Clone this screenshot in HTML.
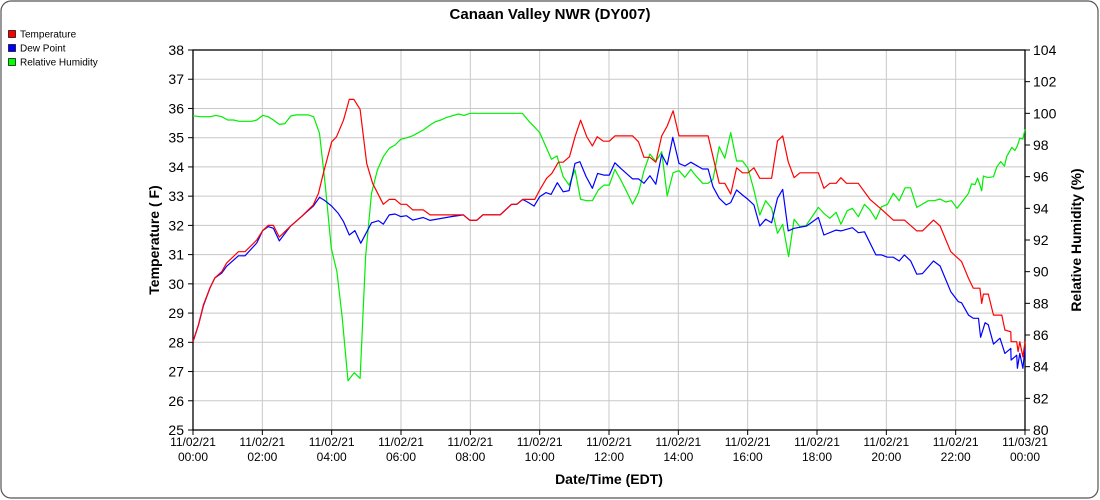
<!DOCTYPE html>
<html><head><meta charset="utf-8"><style>
body{margin:0;background:#fff;}
#wrap{position:relative;width:1100px;height:500px;}
svg{position:absolute;left:0;top:0;font-family:"Liberation Sans",sans-serif;}
</style></head><body>
<div id="wrap">
<svg id="chart" width="1100" height="500">
<rect x="1" y="1" width="1097" height="497" rx="10" ry="10" fill="#fff" stroke="#555" stroke-width="1.2"/>
<text x="550" y="19" text-anchor="middle" font-size="15" font-weight="bold">Canaan Valley NWR (DY007)</text>
<g>
<g><rect x="8.5" y="30.5" width="7" height="7" fill="#f00" stroke="#000" stroke-width="0.7"/><text x="20" y="37.5" font-size="10">Temperature</text></g>
<g><rect x="8.5" y="44.5" width="7" height="7" fill="#00f" stroke="#000" stroke-width="0.7"/><text x="20" y="51.5" font-size="10">Dew Point</text></g>
<g><rect x="8.5" y="58.5" width="7" height="7" fill="#0f0" stroke="#000" stroke-width="0.7"/><text x="20" y="65.5" font-size="10">Relative Humidity</text></g>
</g>
<text transform="translate(159,240) rotate(-90)" text-anchor="middle" font-size="14" font-weight="bold">Temperature ( F)</text>
<text transform="translate(1081,240) rotate(-90)" text-anchor="middle" font-size="14" font-weight="bold">Relative Humidity (%)</text>
<text x="609" y="484" text-anchor="middle" font-size="14" font-weight="bold">Date/Time (EDT)</text>
<g id="grid"></g><g id="axes"></g><g id="series"></g>
</svg></div>
<script>
const tempHours=[0,0.16,0.3,0.49,0.63,0.83,0.97,1.31,1.5,1.84,2.01,2.17,2.32,2.49,2.8,3.13,3.47,3.62,3.76,4.0,4.14,4.34,4.51,4.64,4.82,5.01,5.18,5.49,5.66,5.83,5.99,6.16,6.34,6.64,6.84,7.8,7.99,8.18,8.36,8.86,9.19,9.34,9.51,9.86,10.0,10.2,10.35,10.54,10.68,10.86,11.02,11.18,11.36,11.52,11.66,11.84,12.01,12.17,12.68,12.85,13.01,13.18,13.35,13.52,13.68,13.85,14.02,14.86,15.0,15.18,15.34,15.51,15.68,15.85,16.01,16.18,16.35,16.69,16.86,17.01,17.17,17.34,17.51,18.04,18.2,18.37,18.55,18.69,18.85,19.19,19.53,19.86,20.2,20.52,20.88,21.04,21.36,21.55,21.86,22.17,22.37,22.51,22.7,22.75,22.8,22.94,23.09,23.33,23.42,23.59,23.6,23.76,23.8,23.85,23.94,24];
const tempValues=[28.02,28.6,29.28,29.86,30.2,30.42,30.71,31.1,31.1,31.5,31.82,32.0,32.0,31.6,31.96,32.3,32.7,33.1,33.78,34.86,35.03,35.6,36.31,36.31,35.97,34.12,33.44,32.72,32.89,32.89,32.72,32.72,32.53,32.53,32.36,32.36,32.17,32.17,32.36,32.36,32.72,32.72,32.89,32.89,33.21,33.61,33.78,34.16,34.16,34.35,35.03,35.6,35.03,34.72,35.03,34.88,34.88,35.06,35.06,34.86,34.33,34.33,34.16,35.06,35.4,35.92,35.06,35.06,34.35,33.44,33.44,33.07,33.97,33.8,33.8,33.97,33.61,33.61,34.89,35.06,34.18,33.63,33.8,33.8,33.27,33.44,33.44,33.63,33.44,33.44,32.89,32.55,32.18,32.18,31.81,31.81,32.18,31.98,31.1,30.76,30.19,29.85,29.85,29.33,29.65,29.65,28.93,28.93,28.42,28.36,28.02,28.02,27.68,28.02,27.5,28.02];
const dewHours=[0,0.16,0.3,0.49,0.63,0.83,0.97,1.31,1.5,1.84,2.01,2.17,2.32,2.49,2.8,3.13,3.47,3.65,3.81,4.0,4.19,4.34,4.51,4.67,4.84,4.99,5.15,5.35,5.49,5.66,5.83,5.99,6.16,6.34,6.64,6.84,7.45,7.8,7.99,8.18,8.36,8.86,9.19,9.34,9.51,9.68,9.84,10.0,10.18,10.33,10.51,10.68,10.85,11.02,11.16,11.34,11.52,11.67,11.85,12.01,12.17,12.34,12.68,12.85,13.01,13.18,13.35,13.52,13.68,13.84,14.02,14.19,14.36,14.7,14.86,15.0,15.18,15.38,15.51,15.68,15.85,16.01,16.18,16.35,16.52,16.69,16.86,17.01,17.17,17.34,17.7,18.04,18.2,18.55,18.69,19.02,19.19,19.37,19.7,19.86,20.03,20.2,20.37,20.52,20.7,20.88,21.04,21.36,21.55,21.86,22.08,22.17,22.37,22.51,22.66,22.72,22.85,22.94,23.09,23.28,23.42,23.59,23.6,23.76,23.78,23.85,23.94,24];
const dewValues=[28.02,28.6,29.25,29.86,30.2,30.37,30.6,30.96,30.96,31.4,31.82,31.96,31.9,31.47,31.96,32.3,32.66,32.96,32.84,32.66,32.41,32.13,31.67,31.82,31.39,31.73,32.09,32.16,32.04,32.36,32.39,32.3,32.33,32.18,32.27,32.17,32.3,32.36,32.17,32.17,32.36,32.36,32.72,32.72,32.89,32.78,32.66,32.98,33.12,33.06,33.46,33.15,33.19,34.12,34.18,33.67,33.27,33.78,33.72,33.72,34.14,33.95,33.59,33.59,33.44,33.7,33.41,34.43,34.07,35.01,34.12,34.03,34.16,33.93,33.93,33.32,32.93,32.7,32.78,33.21,33.04,32.89,32.7,31.98,32.21,32.09,32.93,33.23,31.81,31.9,31.98,32.27,31.67,31.84,31.81,31.92,31.75,31.78,30.99,30.99,30.91,30.91,30.78,30.99,30.79,30.33,30.35,30.78,30.61,29.73,29.39,29.35,28.93,28.82,28.82,28.17,28.67,28.6,27.94,28.14,27.62,27.79,27.39,27.56,27.11,27.62,27.11,27.79];
const rhHours=[0,0.2,0.49,0.66,0.83,1.0,1.17,1.33,1.69,1.84,2.01,2.17,2.32,2.49,2.65,2.82,2.98,3.32,3.48,3.65,3.82,3.99,4.15,4.3,4.47,4.65,4.82,4.98,5.15,5.32,5.49,5.66,5.83,5.99,6.16,6.34,6.64,6.84,6.99,7.15,7.32,7.66,7.82,7.99,9.5,9.68,9.84,10.0,10.17,10.34,10.5,10.68,10.85,11.02,11.18,11.36,11.52,11.69,11.86,12.01,12.17,12.34,12.51,12.68,12.85,13.01,13.18,13.35,13.52,13.68,13.85,14.02,14.19,14.36,14.53,14.7,14.86,15.0,15.18,15.34,15.51,15.68,15.85,16.01,16.18,16.35,16.52,16.69,16.86,17.01,17.18,17.34,17.51,17.68,18.04,18.2,18.37,18.55,18.69,18.87,19.02,19.19,19.37,19.53,19.7,19.86,20.03,20.2,20.37,20.54,20.7,20.88,21.21,21.38,21.55,21.71,21.88,22.04,22.21,22.37,22.46,22.56,22.63,22.69,22.75,22.8,22.9,22.99,23.09,23.19,23.3,23.41,23.47,23.62,23.71,23.78,23.85,23.94,24.0];
const rhValues=[99.85,99.79,99.79,99.87,99.79,99.58,99.58,99.5,99.5,99.58,99.87,99.79,99.58,99.3,99.35,99.83,99.9,99.9,99.79,98.74,95.37,91.48,90.0,87.16,83.11,83.62,83.26,90.95,94.95,96.42,97.26,97.79,98.0,98.36,98.45,98.59,98.95,99.26,99.47,99.58,99.75,99.96,99.87,100.0,100.0,99.52,99.16,98.78,97.94,97.1,97.31,96.0,95.47,96.42,94.57,94.48,94.48,95.16,95.47,95.47,96.46,95.79,95.05,94.27,94.99,96.38,97.43,96.95,97.58,94.78,96.25,96.38,95.96,96.46,96.0,95.58,95.58,95.83,97.9,97.16,98.78,96.99,96.99,96.53,95.16,93.58,94.48,94.0,92.42,92.99,90.95,93.31,92.84,92.9,94.06,93.68,93.37,93.75,93.0,93.85,94.0,93.47,94.25,93.9,93.31,94.1,94.25,94.95,94.48,95.3,95.3,94.06,94.48,94.48,94.59,94.4,94.48,94.0,94.48,94.95,95.54,95.5,95.9,95.54,95.11,96.04,95.96,95.96,96.0,96.63,96.95,96.67,97.26,97.85,97.65,97.95,98.42,98.38,98.99];
const leftTicks=[25,26,27,28,29,30,31,32,33,34,35,36,37,38];
const rightTicks=[80,82,84,86,88,90,92,94,96,98,100,102,104];
const xTickHours=[0,2,4,6,8,10,12,14,16,18,20,22,24];
const xTickDates=["11/02/21","11/02/21","11/02/21","11/02/21","11/02/21","11/02/21","11/02/21","11/02/21","11/02/21","11/02/21","11/02/21","11/02/21","11/03/21"];
const xTickTimes=["00:00","02:00","04:00","06:00","08:00","10:00","12:00","14:00","16:00","18:00","20:00","22:00","00:00"];

const L=193,R=1025,T=50,B=430;
const xs=h=>L+(R-L)*h/24;
const yT=v=>B-(B-T)*(v-25)/13;
const yR=v=>B-(B-T)*(v-80)/24;
const NS="http://www.w3.org/2000/svg";
function mk(tag,attrs,parent){const e=document.createElementNS(NS,tag);for(const k in attrs)e.setAttribute(k,attrs[k]);parent.appendChild(e);return e;}
const grid=document.getElementById('grid'),axes=document.getElementById('axes'),ser=document.getElementById('series');
leftTicks.forEach(v=>{const y=yT(v);
 const g=mk('line',{x1:L,x2:R,y1:y,y2:y,stroke:'#c8c8c8','stroke-width':1},grid);
 
 
 mk('line',{x1:L-5,x2:L,y1:y,y2:y,stroke:'#000'},axes);
 const t=mk('text',{x:L-9,y:y+5,'text-anchor':'end','font-size':14},axes);t.textContent=v;
 
 
});
rightTicks.forEach(v=>{const y=yR(v);
 mk('line',{x1:R,x2:R+5,y1:y,y2:y,stroke:'#000'},axes);
 const t=mk('text',{x:R+8,y:y+5,'font-size':14},axes);t.textContent=v;
 
 
});
xTickHours.forEach((h,i)=>{const x=xs(h);
 const g=mk('line',{x1:x,x2:x,y1:T,y2:B,stroke:'#c8c8c8','stroke-width':1},grid);
 
 
 mk('line',{x1:x,x2:x,y1:B,y2:B+5,stroke:'#000'},axes);
 const t=mk('text',{x:x,y:446,'text-anchor':'middle','font-size':12},axes);t.textContent=xTickDates[i];
 
 
 const t2=mk('text',{x:x,y:461,'text-anchor':'middle','font-size':12},axes);t2.textContent=xTickTimes[i];
 
 
});
const bx=mk('rect',{x:L,y:T,width:R-L,height:B-T,fill:'none',stroke:'#000','stroke-width':1.3},axes);


function line(hrs,vals,ys,color,name){
 const d=hrs.map((h,i)=>(i?'L':'M')+xs(h).toFixed(1)+','+ys(vals[i]).toFixed(1)).join('');
 const p=mk('path',{d:d,fill:'none',stroke:color,'stroke-width':1.2,'stroke-linejoin':'round'},ser);
 
 
}
line(rhHours,rhValues,yR,'#00ee00','relative-humidity-line');
line(dewHours,dewValues,yT,'#0000ff','dew-point-line');
line(tempHours,tempValues,yT,'#ff0000','temperature-line');
</script>
</body></html>
